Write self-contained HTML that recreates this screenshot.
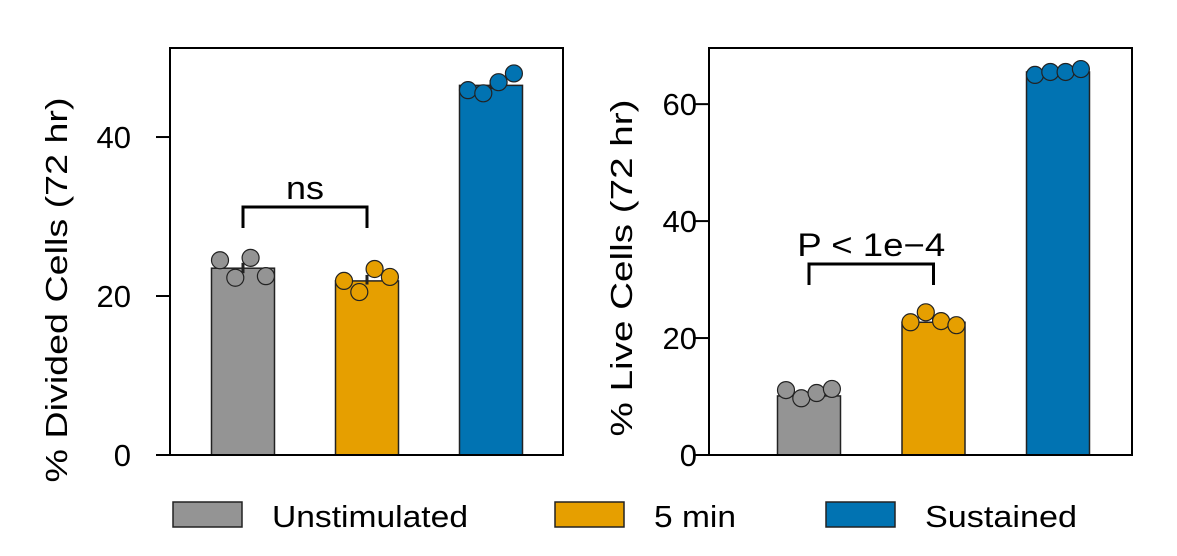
<!DOCTYPE html>
<html><head><meta charset="utf-8"><style>
body{margin:0;background:#fff;}
svg{display:block;font-family:"Liberation Sans",Arial,sans-serif;}
</style></head><body>
<svg id="chart" width="1177" height="556" viewBox="0 0 1177 556" xmlns="http://www.w3.org/2000/svg"></svg>
<script>
const categories = ["Unstimulated", "5 min", "Sustained"];
const colors = ["#949494", "#E69F00", "#0173B2"];
const dividedMeans = [23.5, 21.9, 46.5];
const dividedPoints = [[24.5, 22.3, 24.8, 22.5], [21.9, 20.5, 23.4, 22.4], [45.9, 45.5, 46.9, 48.0]];
const liveMeans = [10.1, 22.7, 65.5];
const livePoints = [[11.1, 9.7, 10.6, 11.3], [22.7, 24.4, 22.9, 22.2], [65.0, 65.5, 65.5, 66.0]];
const dividedTicks = [0, 20, 40];
const liveTicks = [0, 20, 40, 60];

const NS = "http://www.w3.org/2000/svg";
const svg = document.getElementById("chart");
function mk(tag, attrs, parent) {
  const e = document.createElementNS(NS, tag);
  for (const k in attrs) e.setAttribute(k, attrs[k]);
  (parent || svg).appendChild(e);
  return e;
}

function panel(cfg) {
  const g = mk("g", {});
  
  
  const y = v => cfg.y0 - (v / cfg.ymax) * (cfg.y0 - cfg.top);
  const xc = i => cfg.x0 + cfg.first + i * cfg.step;
  cfg.means.forEach((m, i) => {
    const r = mk("rect", {x: xc(i) - 31.5, y: y(m), width: 63, height: cfg.y0 - y(m), fill: colors[i], stroke: "#222", "stroke-width": 1.5}, g);
    
    
    const pts = cfg.points[i];
    const mean = pts.reduce((a, b) => a + b, 0) / pts.length;
    const sd = Math.sqrt(pts.reduce((a, b) => a + (b - mean) ** 2, 0) / (pts.length - 1)) / Math.sqrt(pts.length);
    mk("line", {x1: xc(i), x2: xc(i), y1: y(mean - sd), y2: y(mean + sd), stroke: "#222", "stroke-width": 3}, g);
    pts.forEach((p, j) => {
      const c = mk("circle", {cx: xc(i) - 23 + j * 15.3, cy: y(p), r: 8.5, fill: colors[i], stroke: "#222", "stroke-width": 1.2}, g);
      
      
    });
  });
  mk("rect", {x: cfg.x0, y: cfg.top, width: cfg.x1 - cfg.x0, height: cfg.y0 - cfg.top, fill: "none", stroke: "#000", "stroke-width": 2}, g);
  cfg.ticks.forEach(t => {
    mk("line", {x1: cfg.x0 - 14, x2: cfg.x0, y1: y(t), y2: y(t), stroke: "#000", "stroke-width": 2}, g);
    const tx = mk("text", {x: cfg.labelRight, y: y(t) + 11, "text-anchor": "end", "font-size": 31}, g);
    tx.textContent = t;
    
    
  });
  const at = mk("text", {transform: `translate(${cfg.titleX},${cfg.titleY}) rotate(-90)`, "text-anchor": "middle", "font-size": 31, textLength: cfg.titleLen, lengthAdjust: "spacingAndGlyphs"}, g);
  at.textContent = cfg.title;
  
  
  const by = cfg.bracketY, bx1 = xc(0), bx2 = xc(1);
  mk("path", {d: `M${bx1},${by + 21} V${by} H${bx2} V${by + 21}`, fill: "none", stroke: "#000", "stroke-width": 3}, g);
  const st = mk("text", {x: (bx1 + bx2) / 2, y: by - 8, "text-anchor": "middle", "font-size": 32, textLength: cfg.sigLen, lengthAdjust: "spacingAndGlyphs"}, g);
  st.textContent = cfg.sig;
  
  
}

panel({name: "divided-cells-panel", x0: 170, x1: 563, top: 48, y0: 455, ymax: 51.2, first: 73, step: 124, means: dividedMeans, points: dividedPoints, ticks: dividedTicks, labelRight: 131, title: "% Divided Cells (72 hr)", titleX: 67, titleY: 290, titleLen: 385, bracketY: 207, sig: "ns", sigLen: 38});
panel({name: "live-cells-panel", x0: 709, x1: 1132, top: 48, y0: 455, ymax: 69.6, first: 100, step: 124.5, means: liveMeans, points: livePoints, ticks: liveTicks, labelRight: 697, title: "% Live Cells (72 hr)", titleX: 632, titleY: 268, titleLen: 337, bracketY: 264, sig: "P < 1e\u22124", sigLen: 148});

const lg = mk("g", {});


const lx = [173, 555, 826];
const lw = [196, 82, 152];
categories.forEach((c, i) => {
  const r = mk("rect", {x: lx[i], y: 502, width: 69, height: 25, fill: colors[i], stroke: "#222", "stroke-width": 1.5}, lg);
  
  
  const t = mk("text", {x: lx[i] + 99, y: 527, "font-size": 31, textLength: lw[i], lengthAdjust: "spacingAndGlyphs"}, lg);
  t.textContent = c;
  
  
});
</script>
</body></html>
